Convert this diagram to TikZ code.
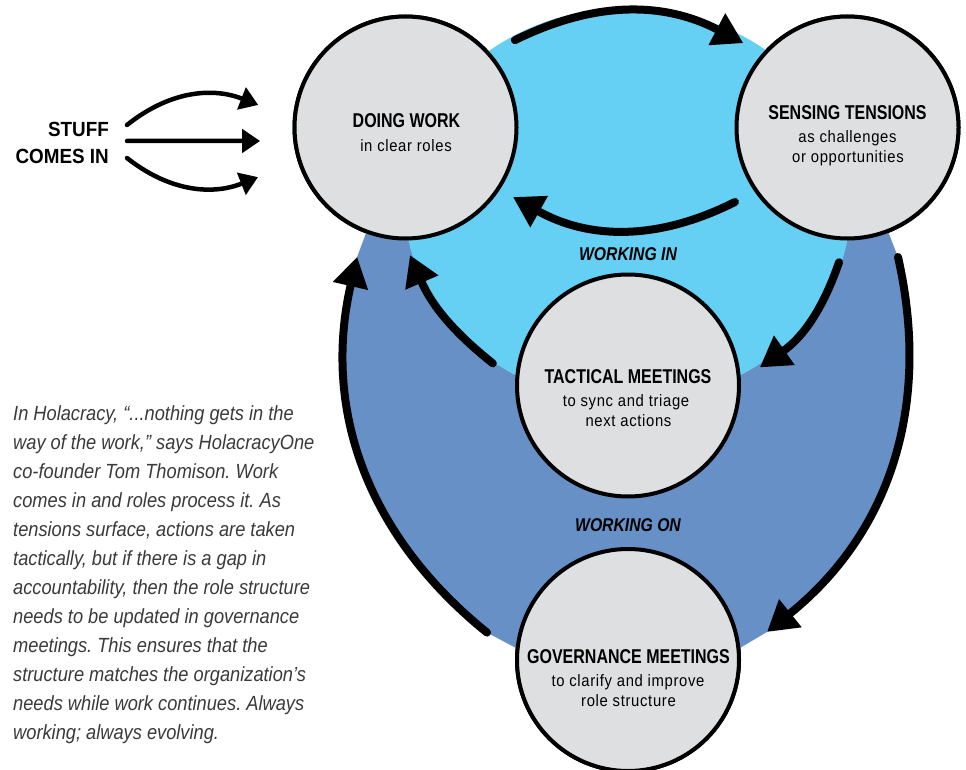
\documentclass[tikz,border=0pt]{standalone}
\usepackage{fontspec}
\setmainfont{Liberation Sans}
\newfontfamily\titlefont[FakeStretch=0.8]{Liberation Sans}
\newfontfamily\subfont[FakeStretch=0.9,LetterSpace=4]{Liberation Sans}
\newfontfamily\zonefont[FakeStretch=0.85]{Liberation Sans}
\newfontfamily\parafont[FakeStretch=0.89]{Liberation Sans}
\newfontfamily\stufffont[FakeStretch=0.92]{Liberation Sans}
\usetikzlibrary{arrows.meta}
\definecolor{workin}{RGB}{102,207,244}
\definecolor{workon}{RGB}{103,144,199}
\definecolor{bubblegray}{RGB}{222,223,225}
\definecolor{paragray}{RGB}{58,58,60}
\frenchspacing

\begin{document}
\begin{tikzpicture}[x=1pt,y=1pt,
    bubble/.style={circle,draw=black,line width=4pt,fill=bubblegray,minimum size=222pt,inner sep=0pt},
    ttl/.style={font=\titlefont\bfseries\fontsize{20}{24}\selectfont,inner sep=0pt,anchor=base},
    sub/.style={font=\subfont\fontsize{16.5}{19.5}\selectfont,inner sep=0pt,anchor=base},
    zone/.style={font=\zonefont\bfseries\itshape\fontsize{18.5}{22}\selectfont,inner sep=0pt},
    bigarrow/.style={line width=8pt,line cap=round,-{Triangle[length=30pt,width=34pt]}},
    smallarrow/.style={line width=4.5pt,line cap=round,-{Triangle[length=18pt,width=23pt]}}]
    \useasboundingbox (0,0) rectangle (966,-770);

    % circles first, so the fills can use their centres
    \path (405.5,-127.5) node[bubble] (dw) {}
          (847.5,-127.5) node[bubble] (st) {}
          (628,-385.5) node[bubble] (tm) {}
          (628,-660) node[bubble] (gm) {};

    % working on / working in
    \fill[workon] (dw.center) -- ([shift={(-110.5:138)}]dw.center) to[bend right=32] ([shift={(169:143.6)}]gm.center)
        -- ([shift={(174:112)}]gm.center) -- (gm.center) -- ([shift={(6:112)}]gm.center)
        -- ([shift={(11.4:141.8)}]gm.center) to[bend right=32] ([shift={(-68.7:139)}]st.center) -- (st.center) -- cycle;
    \fill[workin] (628,-205) ellipse[x radius=223, y radius=197];

    \draw[bigarrow] ([shift={(38.6:140)}]dw.center) to[bend left=27] ([shift={(141:134)}]st.center);
    \draw[bigarrow] ([shift={(213.5:135)}]st.center) to[bend left=28] ([shift={(-32.9:128)}]dw.center);
    \draw[bigarrow] ([shift={(-93.6:135)}]st.center) to[bend left=18] ([shift={(7.8:133)}]tm.center);
    \draw[bigarrow] ([shift={(170.7:137)}]tm.center) to[bend left=14] ([shift={(-88:127.6)}]dw.center);
    \draw[bigarrow] ([shift={(-68.7:139)}]st.center) to[bend left=32] ([shift={(11.4:141.8)}]gm.center);
    \draw[bigarrow] ([shift={(169:143.6)}]gm.center) to[bend left=32] ([shift={(-110.5:138)}]dw.center);

    % redraw the circles on top
    \path (dw) node[bubble] {} (st) node[bubble] {} (tm) node[bubble] {} (gm) node[bubble] {};

    \node[ttl] (dwt) at (406.5,-128) {DOING WORK};
    \node[sub] (dws) at (406,-152) {in clear roles};
    \node[ttl] (stt) at (847.5,-119.3) {SENSING TENSIONS};
    \node[sub] (sts1) at (847.5,-142.7) {as challenges};
    \node[sub] (sts2) at (848,-162.3) {or opportunities};
    \node[ttl] (tmt) at (628,-383) {TACTICAL MEETINGS};
    \node[sub] (tms1) at (626,-406.7) {to sync and triage};
    \node[sub] (tms2) at (628.5,-426) {next actions};
    \node[ttl] (gmt) at (628.5,-663) {GOVERNANCE MEETINGS};
    \node[sub] (gms1) at (628,-686.7) {to clarify and improve};
    \node[sub] (gms2) at (628.5,-706) {role structure};

    \node[zone] (win) at (628,-254) {WORKING IN};
    \node[zone] (won) at (628,-525) {WORKING ON};

    \node[font=\stufffont\bfseries\fontsize{20.5}{27}\selectfont,align=right,inner sep=0pt,anchor=east] (stuff) at (109,-142.5) {STUFF\\COMES IN};
    \foreach \dy/\ang/\dist/\bnd in {17.5/171.3/149/30, 1.5/185.3/146/0, -15.5/198.6/155.6/-30}
      \draw[smallarrow] ([shift={(18,\dy)}]stuff.east) to[bend left=\bnd] ([shift={(\ang:\dist)}]dw.center);

    \node[font=\parafont\itshape\fontsize{20.5}{29}\selectfont,text=paragray,align=left,inner sep=0pt,anchor=north west] (note) at (13,-405)
      {In Holacracy, “...nothing gets in the\\
       way of the work,” says HolacracyOne\\
       co-founder Tom Thomison. Work\\
       comes in and roles process it. As\\
       tensions surface, actions are taken\\
       tactically, but if there is a gap in\\
       accountability, then the role structure\\
       needs to be updated in governance\\
       meetings. This ensures that the\\
       structure matches the organization’s\\
       needs while work continues. Always\\
       working; always evolving.};
\end{tikzpicture}
\end{document}
